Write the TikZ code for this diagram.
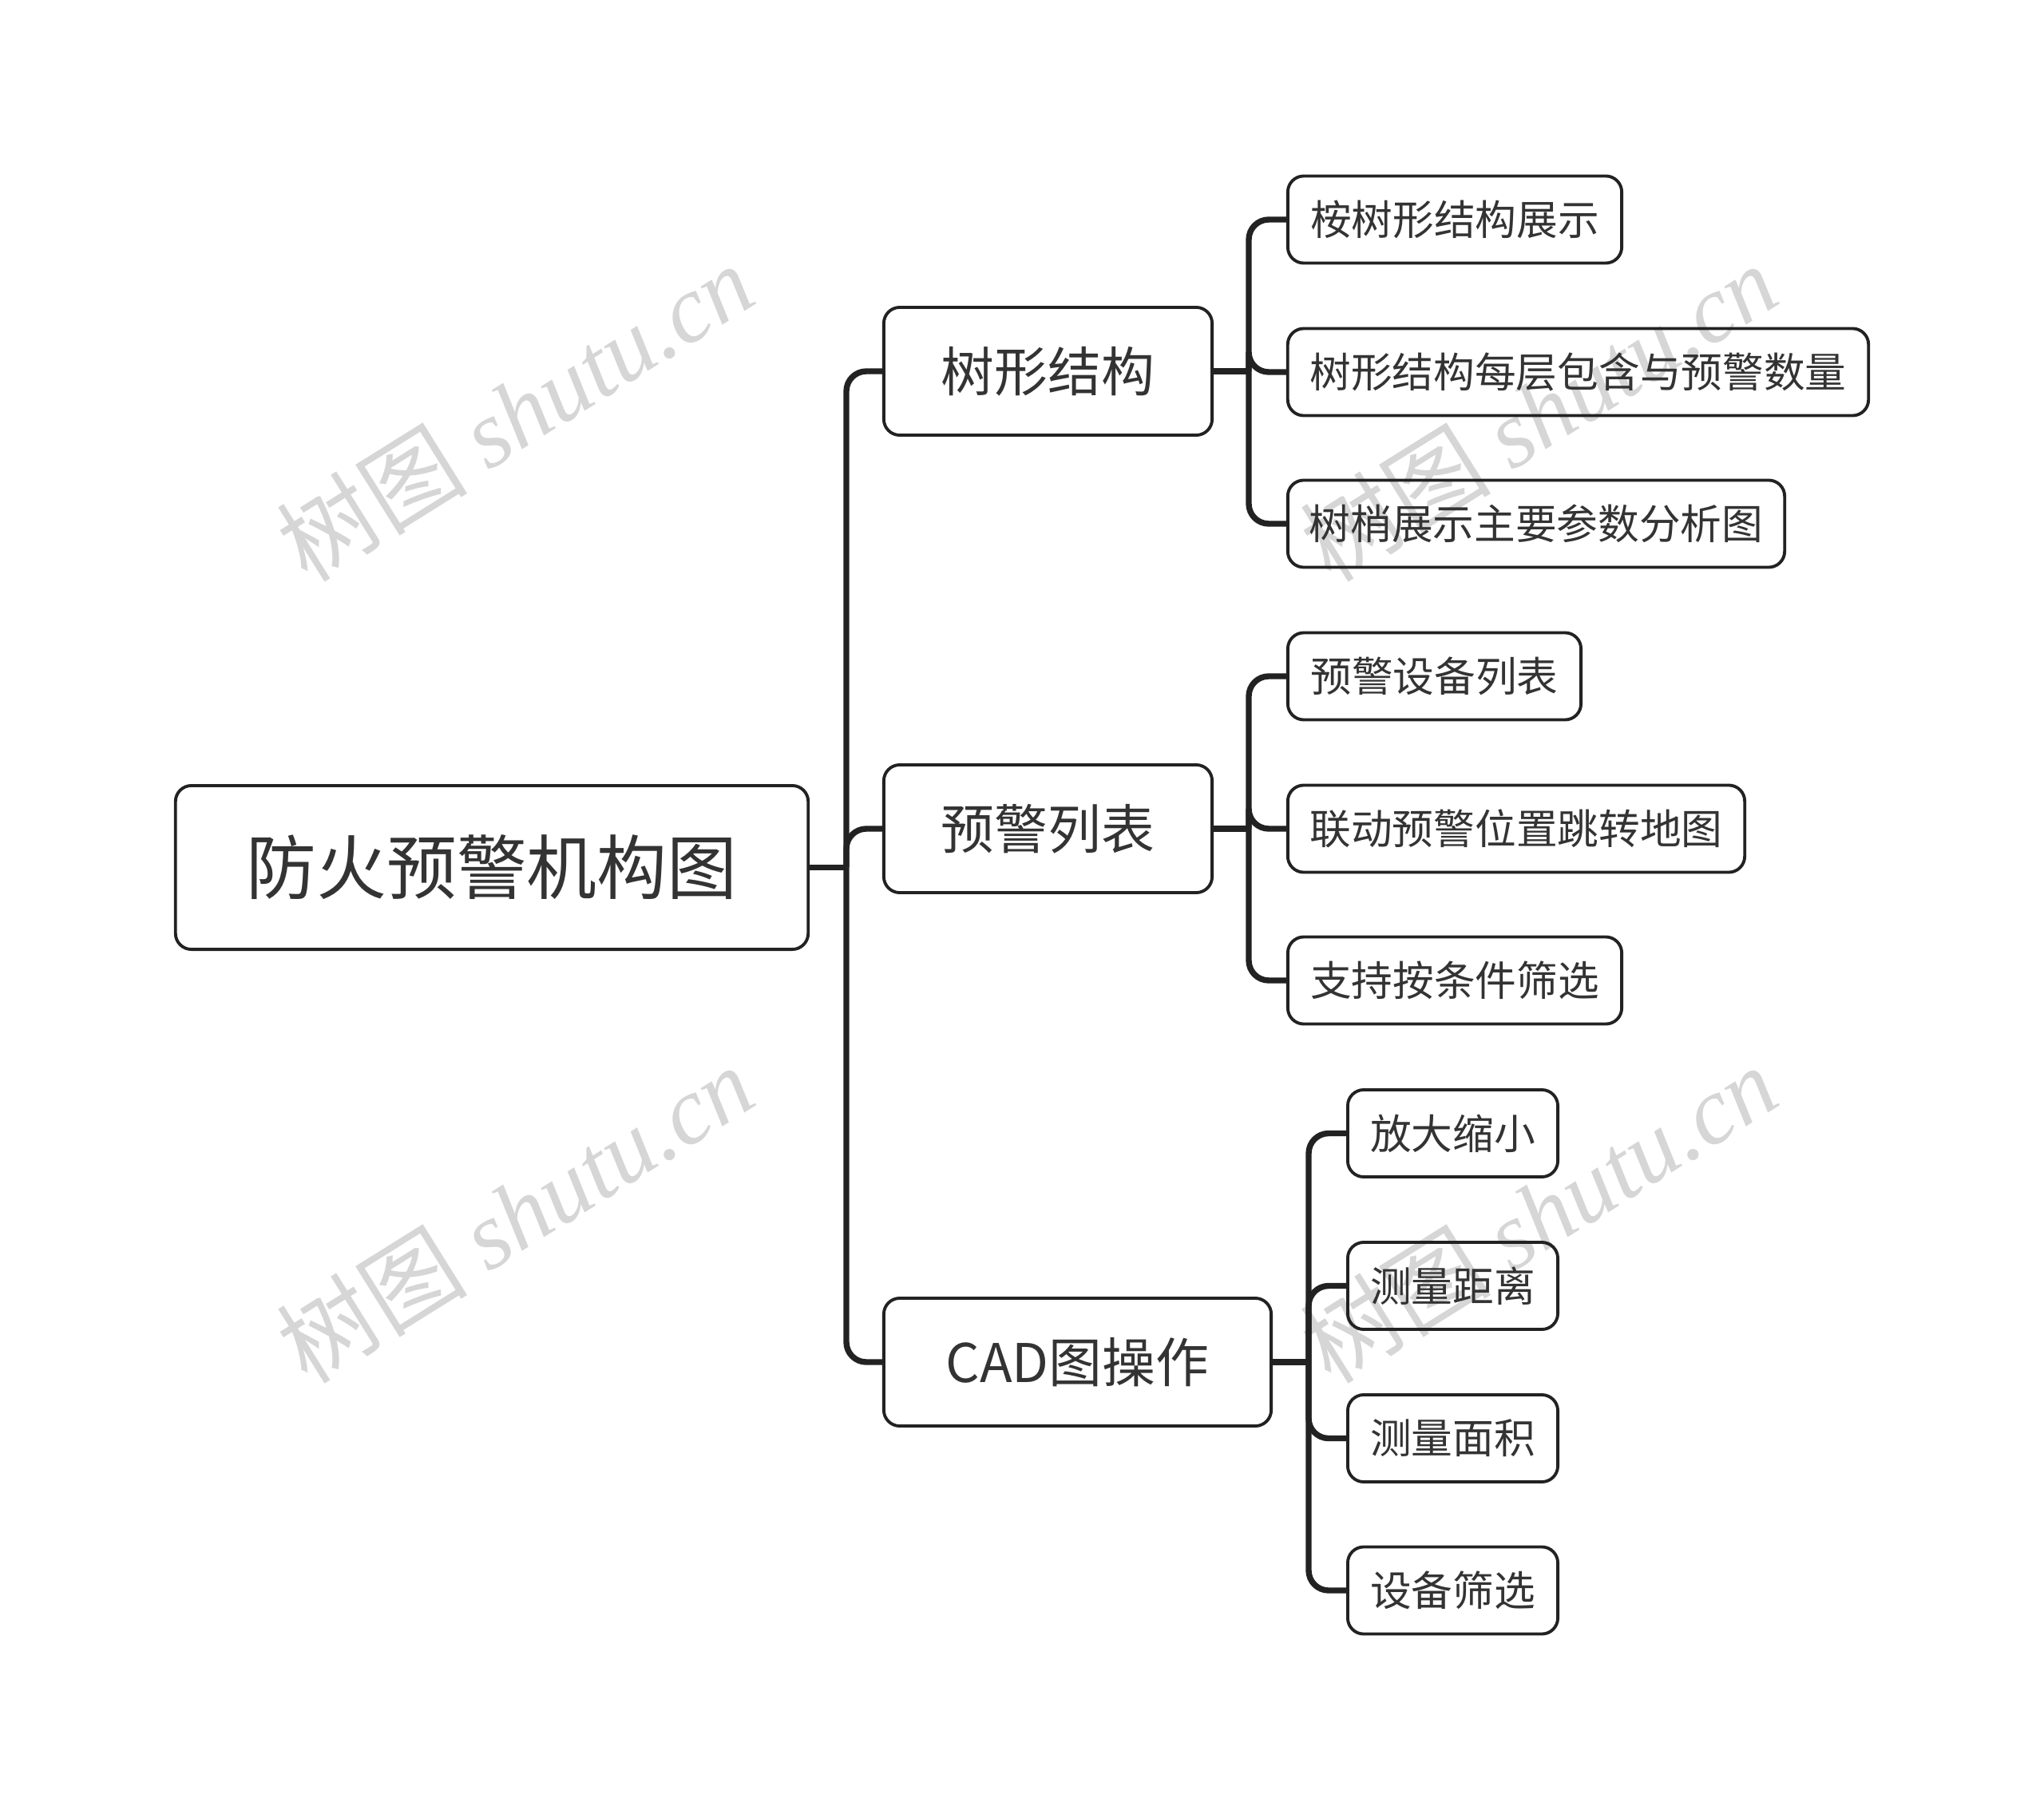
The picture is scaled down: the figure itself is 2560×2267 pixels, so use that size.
\documentclass[tikz,border=0pt]{standalone}
\usepackage{fontspec}
\setmainfont{Noto Sans CJK SC}
\newfontfamily\cjk{Noto Sans CJK SC}
\newfontfamily\wmserif{Liberation Serif}
\definecolor{txt}{HTML}{333333}
\definecolor{edge}{HTML}{222222}
\definecolor{wmc}{HTML}{D6D6D6}
\tikzset{
  box/.style={draw=edge, line width=1.1pt, rounded corners=0.2cm, text=txt, inner sep=0pt, align=center},
  rootbox/.style={box, font=\fontsize{25}{30}\selectfont, minimum width=7.92cm, minimum height=2.05cm},
  midbox/.style={box, font=\fontsize{19}{23}\selectfont, minimum height=1.60cm},
  leafbox/.style={box, font=\fontsize{14.7}{18}\selectfont, minimum height=1.09cm},
  conn/.style={draw=edge, line width=2.1pt, rounded corners=0.25cm},
  wm/.style={text=wmc, rotate=32, font=\fontsize{34}{40}\selectfont, inner sep=0pt}
}
\begin{document}
\begin{tikzpicture}[x=0.01cm,y=-0.01cm]
\useasboundingbox (0,0) rectangle (2560,2267);
% watermarks
\node[wm] (w1) at (645,516) {\cjk 树图 \wmserif\itshape shutu.cn};
\node[wm] (w2) at (1927,516) {\cjk 树图 \wmserif\itshape shutu.cn};
\node[wm] (w3) at (645,1520) {\cjk 树图 \wmserif\itshape shutu.cn};
\node[wm] (w4) at (1927,1520) {\cjk 树图 \wmserif\itshape shutu.cn};
% nodes
\node[rootbox] (root) at (616,1086.5) {防火预警机构图};
\node[midbox, minimum width=4.11cm] (m1) at (1312.5,465) {树形结构};
\node[midbox, minimum width=4.11cm] (m2) at (1312.5,1038) {预警列表};
\node[midbox, minimum width=4.85cm] (m3) at (1349.5,1706) {CAD图操作};
\node[leafbox, minimum width=4.18cm] (a1) at (1822,275) {桉树形结构展示};
\node[leafbox, minimum width=7.27cm] (a2) at (1976.5,466) {树形结构每层包含与预警数量};
\node[leafbox, minimum width=6.22cm] (a3) at (1924,656) {树梢展示主要参数分析图};
\node[leafbox, minimum width=3.67cm] (b1) at (1796.5,847) {预警设备列表};
\node[leafbox, minimum width=5.72cm] (b2) at (1899,1038) {联动预警位置跳转地图};
\node[leafbox, minimum width=4.18cm] (b3) at (1822,1228) {支持按条件筛选};
\node[leafbox, minimum width=2.63cm] (c1) at (1819.5,1419.5) {放大缩小};
\node[leafbox, minimum width=2.63cm] (c2) at (1819.5,1610.5) {测量距离};
\node[leafbox, minimum width=2.63cm] (c3) at (1819.5,1801.5) {测量面积};
\node[leafbox, minimum width=2.63cm] (c4) at (1819.5,1992) {设备筛选};
% junction coordinates
\coordinate (t0) at (1060,1086.5);
\coordinate (t1) at (1564,465);
\coordinate (t2) at (1564,1038);
\coordinate (t3) at (1639,1706);
% connectors
\draw[conn] (root.east) -- (t0);
\foreach \m in {m1,m2,m3} \draw[conn] (t0) |- (\m.west);
\draw[conn] (m1.east) -- (t1);
\foreach \c in {a1,a2,a3} \draw[conn] (t1) |- (\c.west);
\draw[conn] (m2.east) -- (t2);
\foreach \c in {b1,b2,b3} \draw[conn] (t2) |- (\c.west);
\draw[conn] (m3.east) -- (t3);
\foreach \c in {c1,c2,c3,c4} \draw[conn] (t3) |- (\c.west);
\end{tikzpicture}
\end{document}
